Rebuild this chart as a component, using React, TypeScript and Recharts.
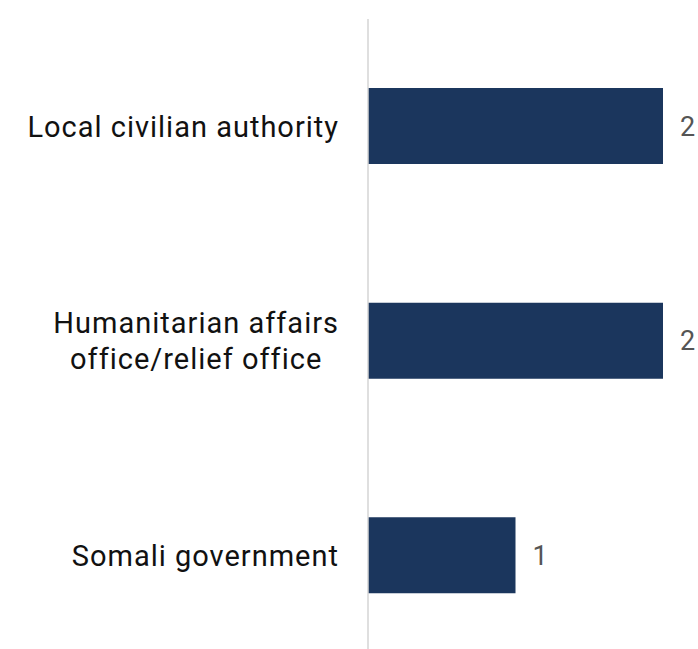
import React from "react";
import { BarChart, Bar, XAxis, YAxis, LabelList } from "recharts";

const categories = ["Local civilian authority", "Humanitarian affairs office/relief office", "Somali government"];
const tickLines = [["Local civilian authority"], ["Humanitarian affairs", "office/relief office"], ["Somali government"]];
const values = [2, 2, 1];

const data = categories.map((name, i) => ({ name, value: values[i] }));

const FONT = "Roboto, 'Noto Sans', sans-serif";
const TICK_SIZE = 29;
const LS = 1;

let ctx: CanvasRenderingContext2D | null = null;
function measure(s: string): number {
  if (!ctx) ctx = document.createElement("canvas").getContext("2d");
  if (!ctx) return s.length * TICK_SIZE * 0.5;
  ctx.font = `${TICK_SIZE}px Roboto`;
  return ctx.measureText(s).width + s.length * LS;
}

const Tick = (props: any) => {
  const { x, y, payload } = props;
  const idx = categories.indexOf(payload.value);
  const lines = idx >= 0 ? tickLines[idx] : [String(payload.value)];
  const lh = 36;
  const start = -((lines.length - 1) * lh) / 2;
  const right = x - 21;
  const blockW = Math.max(...lines.map(measure));
  const cx = lines.length > 1 ? right - blockW / 2 : right;
  const anchor = lines.length > 1 ? "middle" : "end";
  return (
    <text x={cx} y={y} textAnchor={anchor} fill="#111" fontSize={TICK_SIZE} fontFamily={FONT} letterSpacing={LS}>
      {lines.map((l: string, i: number) => (
        <tspan key={i} x={cx} y={y + start + i * lh} dy="0.36em">
          {l}
        </tspan>
      ))}
    </text>
  );
};

export default function App() {
  return (
    <div style={{ position: "absolute", left: 0, top: 0 }}>
      <BarChart
        width={698}
        height={663}
        data={data}
        layout="vertical"
        margin={{ top: 19, right: 35, bottom: 0, left: 0 }}
        barSize={76}
      >
        <XAxis type="number" domain={[0, 2]} hide />
        <YAxis
          type="category"
          dataKey="name"
          width={368}
          axisLine={{ stroke: "#d4d4d4", strokeWidth: 1.5 }}
          tickLine={false}
          tick={<Tick />}
          interval={0}
        />
        <Bar dataKey="value" fill="#1b365d" isAnimationActive={false}>
          <LabelList dataKey="value" position="right" offset={17} fill="#555555" fontSize={27} fontFamily={FONT} />
        </Bar>
      </BarChart>
    </div>
  );
}
